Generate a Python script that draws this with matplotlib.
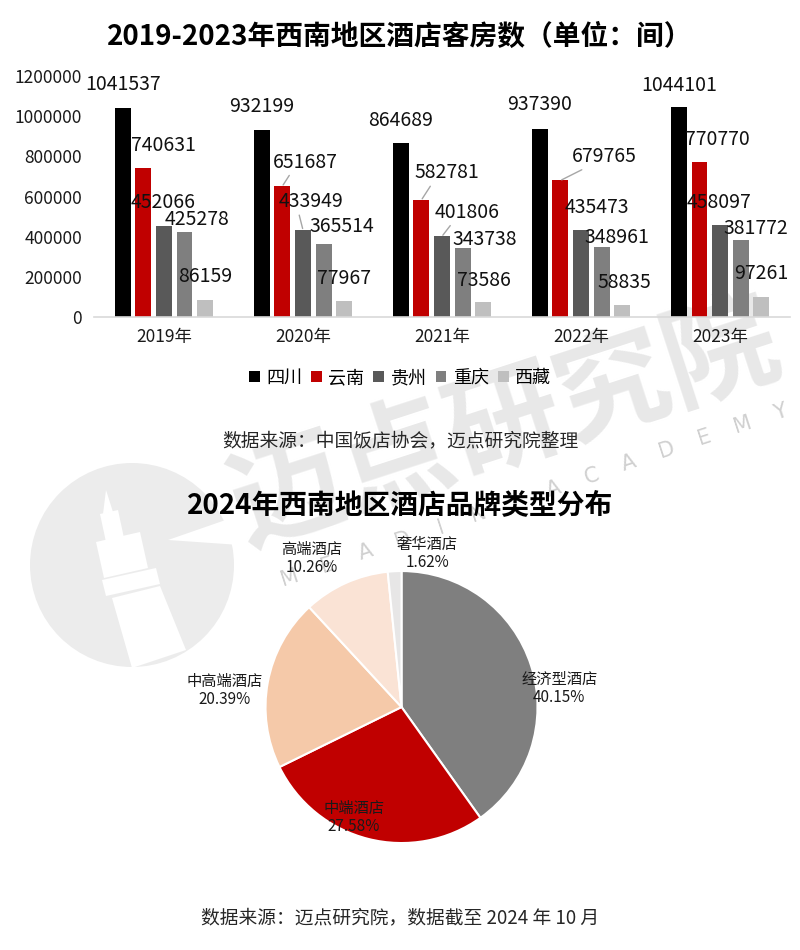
import matplotlib
matplotlib.use('Agg')
import matplotlib.pyplot as plt
from matplotlib.patches import Circle, Polygon
import numpy as np

plt.rcParams['font.family'] = ['Noto Sans CJK SC', 'DejaVu Sans']

years = ['2019年', '2020年', '2021年', '2022年', '2023年']
provinces = ['四川', '云南', '贵州', '重庆', '西藏']
rooms = {
    '四川': [1041537, 932199, 864689, 937390, 1044101],
    '云南': [740631, 651687, 582781, 679765, 770770],
    '贵州': [452066, 433949, 401806, 435473, 458097],
    '重庆': [425278, 365514, 343738, 348961, 381772],
    '西藏': [86159, 77967, 73586, 58835, 97261],
}
bar_colors = ['#000000', '#c00000', '#595959', '#7f7f7f', '#bfbfbf']

# label nudges in pixels (how the labels sit in the original)
lab_dx = [[0, 0, 0, 0, 0],
          [20, 23, 25, 44, 18],
          [-1, 8, 25, 16, -1],
          [13, 18, 22, 15, 15],
          [0, 0, 1, 2, 0]]
lab_dy = [[23, 23, 23, 24, 22],
          [23, 24, 27, 24, 23],
          [24, 28, 24, 22, 23],
          [12, 17, 8, 9, 12],
          [23, 23, 22, 23, 24]]
leaders = [(1, 1), (2, 1), (1, 2), (2, 2), (1, 3)]

hotel_types = ['经济型酒店', '中端酒店', '中高端酒店', '高端酒店', '奢华酒店']
shares = [40.15, 27.58, 20.39, 10.26, 1.62]
pie_colors = ['#7f7f7f', '#c00000', '#f5c9a9', '#fae3d5', '#e7e6e6']
pie_lab_pos = [(1.16, 0.14), (-0.35, -0.81), (-1.30, 0.12), (-0.66, 1.09), (0.19, 1.13)]

fig = plt.figure(figsize=(8, 9.5), dpi=100)

# watermark layer in pixel coordinates
bg = fig.add_axes([0, 0, 1, 1], zorder=-1)
bg.set_xlim(0, 800)
bg.set_ylim(950, 0)
bg.axis('off')
bg.add_patch(Circle((132, 565), 102, color='#ececec', lw=0))
bg.add_patch(Polygon([(168, 540), (240, 515), (240, 545)], color='white', lw=0))
for pts in [[(106, 490), (103, 514), (113, 512)],
            [(100, 514), (118, 510), (124, 538), (106, 542)],
            [(96, 542), (140, 532), (148, 568), (104, 578)],
            [(102, 580), (156, 568), (160, 584), (106, 596)],
            [(112, 598), (160, 586), (186, 650), (132, 668)]]:
    bg.add_patch(Polygon(pts, color='white', lw=0))
bg.text(505, 425, '迈点研究院', fontsize=82, fontweight='bold', color='#d9d9d9',
        alpha=0.6, rotation=18, ha='center', va='center', rotation_mode='anchor')
letters = 'MEADIN ACADEMY'
lx = np.linspace(290, 780, len(letters))
ly = np.linspace(578, 412, len(letters))
for ch, x, y in zip(letters, lx, ly):
    bg.text(x, y, ch, fontsize=15, color='#d0d0d0', rotation=18,
            ha='center', va='center', family='DejaVu Sans')

# bar chart
ax = fig.add_axes([0.118, 0.6663, 0.869, 0.2537])
ax.patch.set_alpha(0)
x = np.arange(len(years))
w = 0.115
step = 0.148
for i, p in enumerate(provinces):
    xs = x + (i - 2) * step
    ax.bar(xs, rooms[p], w, color=bar_colors[i], label=p, zorder=2)
    for j, v in enumerate(rooms[p]):
        ap = None
        if (i, j) in leaders:
            ap = dict(arrowstyle='-', color='#a6a6a6', lw=1, relpos=(0.3, 0.1),
                      shrinkA=0, shrinkB=1)
        ax.annotate(str(v), (xs[j], v), xytext=(lab_dx[i][j] * 0.72, lab_dy[i][j] * 0.72),
                    textcoords='offset points', ha='center', va='center',
                    fontsize=14, color='#111111', zorder=5, arrowprops=ap)

ax.set_xlim(-0.5, 4.5)
ax.set_ylim(0, 1200000)
ax.set_yticks(np.arange(0, 1200001, 200000))
ax.set_yticklabels([str(t) for t in range(0, 1200001, 200000)])
ax.set_xticks(x)
ax.set_xticklabels(years)
ax.tick_params(axis='y', length=0, pad=9, labelsize=12.5, labelcolor='#1a1a1a')
ax.tick_params(axis='x', length=0, pad=8, labelsize=12.5, labelcolor='#1a1a1a')
for s in ['top', 'right', 'left']:
    ax.spines[s].set_visible(False)
ax.spines['bottom'].set_color('#d9d9d9')
ax.spines['bottom'].set_linewidth(1.2)

fig.legend(loc='center', bbox_to_anchor=(0.5, 1 - 378 / 950), ncol=5, frameon=False,
           fontsize=13, handlelength=0.6, handleheight=0.6, handletextpad=0.35,
           columnspacing=0.5)

fig.text(0.5, 1 - 37 / 950, '2019-2023年西南地区酒店客房数（单位：间）', ha='center',
         va='center', fontsize=20, fontweight='bold')
fig.text(0.5, 1 - 441 / 950, '数据来源：中国饭店协会，迈点研究院整理', ha='center',
         va='center', fontsize=13.5, color='#262626')
fig.text(0.5, 1 - 505 / 950, '2024年西南地区酒店品牌类型分布', ha='center',
         va='center', fontsize=20, fontweight='bold')
fig.text(0.5, 1 - 918 / 950, '数据来源：迈点研究院，数据截至 2024 年 10 月', ha='center',
         va='center', fontsize=13.5, color='#262626')

# pie chart
ax2 = fig.add_axes([0.3319, 0.1126, 0.34, 0.2863])
ax2.pie(shares, colors=pie_colors, startangle=90, counterclock=False, radius=1,
        wedgeprops=dict(edgecolor='white', linewidth=1.5))
ax2.set_xlim(-1, 1)
ax2.set_ylim(-1, 1)
for name, val, (px, py) in zip(hotel_types, shares, pie_lab_pos):
    ax2.text(px, py, '%s\n%.2f%%' % (name, val), ha='center', va='center',
             fontsize=11, color='#1a1a1a', linespacing=1.1)

fig.savefig('out.png', dpi=100, facecolor='white')
